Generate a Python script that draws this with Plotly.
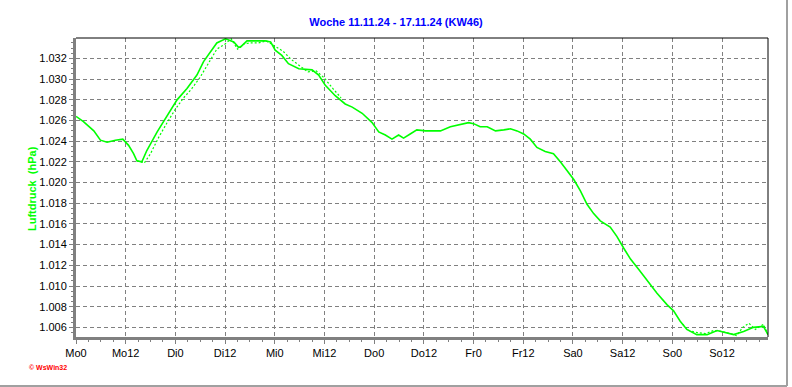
import plotly.graph_objects as go

# ---- data (hours since Mo 0:00, pressure) ----
hours = [0, 1.8, 4.3, 5.9, 7.5, 9.5, 11.3, 12.7, 13.9, 14.7, 15.9, 17.1, 19.6, 22, 24.4,
         26.8, 29.2, 30.8, 32.4, 34, 36.1, 36.9, 38.1, 39.2, 39.7, 41.3, 43.5, 45.7, 47.0,
         48.1, 49.7, 51.3, 53.8, 57, 58.6, 60.2, 62.6, 65, 66.7, 69.1, 71.5, 73.1, 74.7,
         76.3, 77.9, 79.1, 80.7, 82.3, 84.4, 86.5, 88, 90.4, 92.8, 94.8, 96, 97.6, 99.3,
         101.3, 103.3, 104.9, 106.5, 108.1, 109.7, 111.3, 113.3, 115.3, 117, 118.6, 120.2,
         121.8, 123.4, 125, 126.6, 129, 130.6, 132.2, 133.9, 135.9, 137.9, 140.3, 142.7,
         144.3, 145.9, 147.5, 149.9, 152.4, 154.8, 157.2, 158.8, 161.2, 163.6, 166, 167.1]
pressure = [1.0264, 1.0259, 1.0250, 1.0241, 1.0239, 1.0241, 1.0242, 1.0236, 1.0228, 1.0221,
            1.0220, 1.0231, 1.0249, 1.0265, 1.0280, 1.0291, 1.0304, 1.0317, 1.0326, 1.0335,
            1.0339, 1.0338, 1.0336, 1.0331, 1.0331, 1.0337, 1.0337, 1.0337, 1.0336, 1.0328,
            1.0323, 1.0315, 1.0310, 1.0309, 1.0304, 1.0294, 1.0284, 1.0276, 1.0273, 1.0267,
            1.0258, 1.0249, 1.0246, 1.0242, 1.0246, 1.0243, 1.0247, 1.0251, 1.0250, 1.0250,
            1.0250, 1.0254, 1.0256, 1.0258, 1.0257, 1.0254, 1.0254, 1.0250, 1.0251, 1.0252,
            1.0250, 1.0247, 1.0242, 1.0234, 1.0230, 1.0228, 1.0220, 1.0212, 1.0203, 1.0192,
            1.0179, 1.0170, 1.0163, 1.0157, 1.0148, 1.0137, 1.0126, 1.0116, 1.0105, 1.0093,
            1.0082, 1.0076, 1.0066, 1.0058, 1.0053, 1.0053, 1.0057, 1.0055, 1.0053, 1.0056,
            1.0060, 1.0061, 1.0053]

# second (dotted) series, only where it separates from the main curve
hours_dot = [14.7, 16.5, 18, 20, 22, 24, 26, 28, 30, 32, 34, 36, 37.5, 39, 40.5, 42, 44, 46,
             48, 50, 52, 54, 56, 58, 60, 62, 64, None,
             146.5, 148, 150, 152, 154, 156, 158, 159.5, 161, 162.5, 164, 166, 167.1]
pressure_dot = [1.0221, 1.0219, 1.0228, 1.0244, 1.0258, 1.0271, 1.0282, 1.0291, 1.0302, 1.0316,
                1.0329, 1.0334, 1.0339, 1.0329, 1.0334, 1.0335, 1.0335, 1.0337,
                1.0332, 1.0327, 1.0319, 1.0313, 1.0307, 1.0308, 1.0301, 1.0291, 1.0282, None,
                1.0063, 1.0057, 1.0055, 1.0054, 1.0057, 1.0056, 1.0054, 1.0052, 1.0060,
                1.0064, 1.0058, 1.0063, 1.0053]

tick_hours = [0, 12, 24, 36, 48, 60, 72, 84, 96, 108, 120, 132, 144, 156]
tick_labels = ["Mo0", "Mo12", "Di0", "Di12", "Mi0", "Mi12", "Do0", "Do12",
               "Fr0", "Fr12", "Sa0", "Sa12", "So0", "So12"]
y_ticks = [1.006, 1.008, 1.010, 1.012, 1.014, 1.016, 1.018, 1.020, 1.022, 1.024,
           1.026, 1.028, 1.030, 1.032]

title_text = "Woche 11.11.24 - 17.11.24 (KW46)"
y_title = "Luftdruck  (hPa)"

GREEN = "#00FF00"
FONT = "Liberation Sans, Arial, sans-serif"

fig = go.Figure()
fig.add_trace(go.Scatter(x=hours_dot, y=pressure_dot, mode="lines",
                         line=dict(color=GREEN, width=1.2, dash="2px,2px"),
                         connectgaps=False, hoverinfo="skip"))
fig.add_trace(go.Scatter(x=hours, y=pressure, mode="lines",
                         line=dict(color=GREEN, width=1.6)))

fig.update_layout(
    width=792, height=387,
    margin=dict(l=76, r=24, t=38, b=50),
    paper_bgcolor="white", plot_bgcolor="white",
    showlegend=False,
    font=dict(family=FONT, size=11, color="black"),
    title=dict(text="<b>" + title_text + "</b>", x=0.5, xref="container",
               y=1 - 22 / 387, yref="container", yanchor="middle",
               font=dict(family=FONT, size=11, color="#0000FF")),
)

fig.update_xaxes(
    range=[0, 167.1],
    tickmode="array", tickvals=tick_hours, ticktext=tick_labels,
    ticks="outside", ticklen=4, tickcolor="#808080", tickwidth=1,
    showline=True, linecolor="#808080", linewidth=3,
    showgrid=True, gridcolor="#808080", gridwidth=1, griddash="4px,3px",
    zeroline=False,
    minor=dict(dtick=3, tick0=0, ticks="outside", ticklen=2, tickcolor="#808080",
               showgrid=False),
    tickfont=dict(family=FONT, size=11, color="black"),
)
fig.update_yaxes(
    range=[1.00507, 1.03398],
    tickmode="array", tickvals=y_ticks, tickformat=".3f",
    ticks="outside", ticklen=4, tickcolor="#808080", tickwidth=1,
    showline=True, linecolor="#808080", linewidth=3,
    showgrid=True, gridcolor="#808080", gridwidth=1, griddash="4px,3px",
    zeroline=False,
    minor=dict(dtick=0.0005, tick0=1.006, ticks="outside", ticklen=2,
               tickcolor="#808080", showgrid=False),
    tickfont=dict(family=FONT, size=11, color="black"),
)

# top/right black border of the plot area
fig.add_shape(type="line", xref="paper", yref="paper", x0=0, x1=1, y0=1, y1=1,
              line=dict(color="black", width=1))
fig.add_shape(type="line", xref="paper", yref="paper", x0=1, x1=1, y0=0, y1=1,
              line=dict(color="black", width=1))

# outer panel shadow (right and bottom)
px_w, px_h = 692.0, 299.0
fig.add_shape(type="line", xref="paper", yref="paper",
              x0=(787 - 76) / px_w, x1=(787 - 76) / px_w,
              y0=(337 - 386) / px_h, y1=(337 - 0) / px_h,
              line=dict(color="#a0a0a0", width=2))
fig.add_shape(type="line", xref="paper", yref="paper",
              x0=(0 - 76) / px_w, x1=(787 - 76) / px_w,
              y0=(337 - 386) / px_h, y1=(337 - 386) / px_h,
              line=dict(color="#a0a0a0", width=2))

# y-axis title (green, bold, rotated)
fig.add_annotation(text="<b>" + y_title + "</b>", xref="paper", yref="paper",
                   x=(32 - 76) / px_w, y=(337 - 189) / px_h, showarrow=False,
                   textangle=-90, xanchor="center", yanchor="middle",
                   font=dict(family=FONT, size=11, color=GREEN))

# small credit text
fig.add_annotation(text="<b>© WsWin32</b>", xref="paper", yref="paper",
                   x=(27 - 76) / px_w, y=(337 - 367) / px_h, showarrow=False,
                   xanchor="left", yanchor="middle",
                   font=dict(family=FONT, size=7, color="red"))

fig.write_html("out.html",
               config={"displayModeBar": False},
               post_script="document.body.style.margin='0px';"
                           "document.body.style.overflow='hidden';")
